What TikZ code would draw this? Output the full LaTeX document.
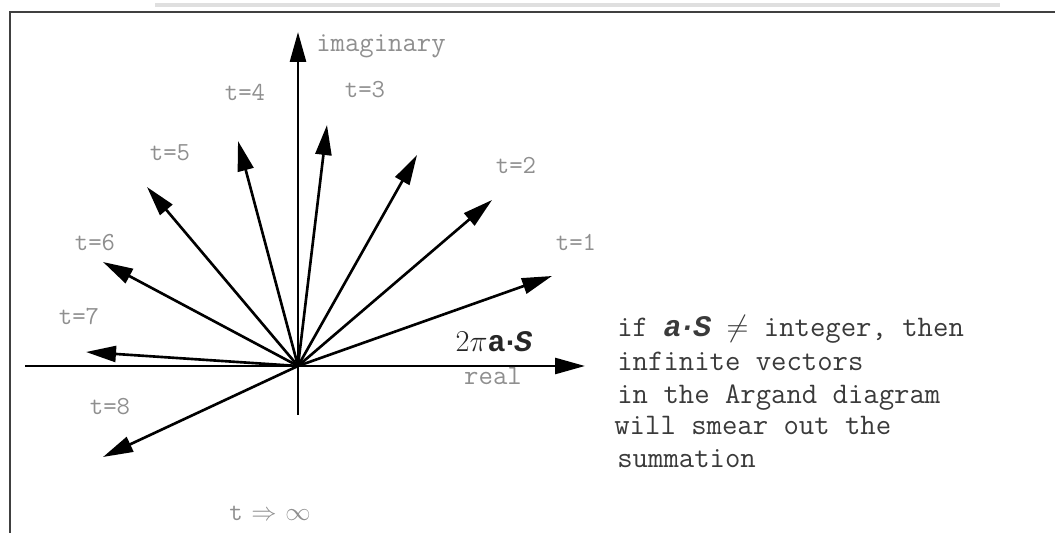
\documentclass[tikz,border=0pt]{standalone}
\usepackage{amsmath,amssymb}
\usepackage{fontspec}
\newfontfamily\boldmono{Liberation Mono}
\usetikzlibrary{arrows.meta}
\definecolor{lblgray}{HTML}{8F8F8F}
\definecolor{txtgray}{HTML}{3A3A3A}

\begin{document}
\begin{tikzpicture}[x=0.02cm, y=-0.02cm,
    vec/.style={line width=1.5pt, -{Triangle[length=0.6cm, width=0.32cm]}},
    tlabel/.style={font=\ttfamily\fontsize{14.8}{14.8}\selectfont, text=lblgray},
    axlabel/.style={font=\ttfamily\fontsize{15.9}{15.9}\selectfont, text=lblgray},
    note/.style={font=\ttfamily\fontsize{17}{18.5}\selectfont, text=txtgray, anchor=base west, inner sep=0pt}]
    \useasboundingbox (0,0) rectangle (1055,533);

    % frame
    \draw[gray!25, line width=2.5pt] (155,5) -- (1000,5);
    \draw[black!75, line width=1.3pt] (10,533) -- (10,12) -- (1055,12);

    % axes
    \coordinate (O) at (298,366);
    \coordinate (reL) at (25,366);
    \coordinate (reR) at (585,366);
    \coordinate (imB) at (298,415);
    \coordinate (imT) at (298,32);
    \draw[vec] (reL) -- (reR);
    \draw[vec] (imB) -- (imT);
    \node[axlabel] (imag) at (381,46) {imaginary};
    \node[axlabel] (real) at (493,376) {real};
    \node[text=black!85, font=\fontsize{17}{17}\selectfont] (phase) at (494,342)
        {$2\pi$\boldmono\bfseries a\kern-0.15em·\kern-0.15em\itshape S};

    % vectors
    \foreach \name/\x/\y in {v1/552/276, v2/492/200, v3/417/155, v4/327/125,
        v5/238/141, v6/147/187, v7/103/262, v8/86/352, v9/103/457}{
        \coordinate (\name) at (\x,\y);
        \draw[vec] (O) -- (\name);
    }

    % labels
    \node[tlabel] (t1) at (576,242) {t=1};
    \node[tlabel] (t2) at (516,165) {t=2};
    \node[tlabel] (t3) at (365,90) {t=3};
    \node[tlabel] (t4) at (245,92) {t=4};
    \node[tlabel] (t5) at (170,153) {t=5};
    \node[tlabel] (t6) at (95,243) {t=6};
    \node[tlabel] (t7) at (79,317) {t=7};
    \node[tlabel] (t8) at (110,407) {t=8};
    \node[tlabel] (limit) at (270,513)
        {t\,\,$\Rightarrow$\,\,$\infty$};

    % note
    \node[note] (n1) at (617,337)
        {if {\boldmono\bfseries\itshape a\kern-0.1em·\kern-0.1em S} $\neq$ integer, then};
    \node[note] (n2) at (617,371) {infinite vectors};
    \node[note] (n3) at (617,404) {in the Argand diagram};
    \node[note] (n4) at (614,435) {will smear out the};
    \node[note] (n5) at (617,467) {summation};
\end{tikzpicture}
\end{document}
